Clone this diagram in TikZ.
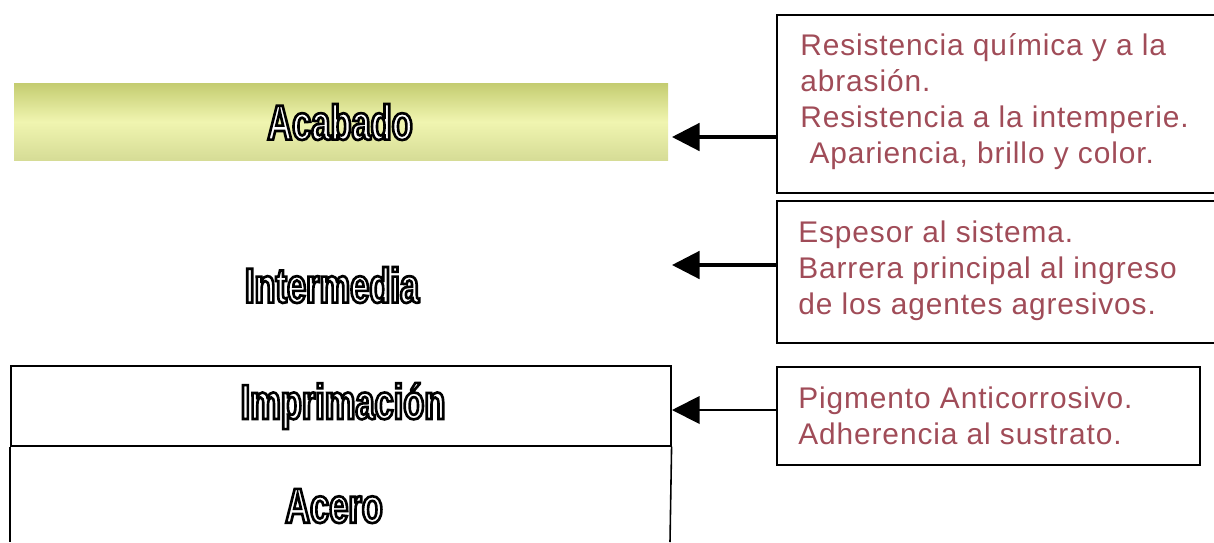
\documentclass[tikz,border=0pt]{standalone}
\usepackage{fontspec}
\setmainfont{Liberation Sans}
\usetikzlibrary{arrows.meta,positioning}

% fonts: condensed outlined layer names, spaced body text
\newfontfamily\layerfont[FakeStretch=0.7]{Liberation Sans}
\newfontfamily\notefont[LetterSpace=3]{Liberation Sans}

\definecolor{noteRed}{RGB}{160,76,88}
\definecolor{acabTop}{RGB}{196,204,112}
\definecolor{acabMid}{RGB}{240,245,176}
\definecolor{acabBot}{RGB}{214,220,150}

% hollow letters: white fill, black stroke
\newcommand{\hollow}[1]{\textcolor{white}{\special{pdf:code 0 G 2 Tr 1.5 w}#1\special{pdf:code 0 Tr}}}

\tikzset{
    layername/.style={font=\layerfont\bfseries\fontsize{28}{30}\selectfont, inner sep=0pt},
    notebox/.style={draw, line width=0.9pt, anchor=north west, inner sep=0pt},
    notetext/.style={anchor=west, align=left, text=noteRed, inner sep=0pt,
                     font=\notefont\fontsize{17}{20.5}\selectfont},
    pointer/.style={-{Triangle[length=0.55cm,width=0.55cm]}, line width=1.8pt},
}

\begin{document}
\begin{tikzpicture}[x=0.02cm, y=-0.02cm]

    \useasboundingbox (0,0) rectangle (1214,542);

    % --- Layer stack (left) ---
    \shade[top color=acabTop, bottom color=acabBot, middle color=acabMid]
        (14,83) rectangle (668,160);
    \node[layername] (acabado) at (340,122) {\hollow{Acabado}};

    \node[layername] (intermedia) at (332,285) {\hollow{Intermedia}};

    \node[draw, line width=0.9pt, anchor=north west, minimum width=660*0.02cm,
          minimum height=80*0.02cm, inner sep=0pt] (imprBox) at (10,365) {};
    \node[layername] (imprimacion) at (343,406) {\hollow{Imprimación}};

    % substrate: open at the bottom
    \draw[line width=0.9pt] (imprBox.south west) -- (10,542);
    \draw[line width=0.9pt] (imprBox.south east) -- (670,542);
    \node[layername] (acero) at (334,506) {\hollow{Acero}};

    % --- Property boxes (right) ---
    \node[notebox, minimum width=440*0.02cm, minimum height=178*0.02cm] (boxAcab) at (776,14) {};
    \node[notetext] (txtAcab) at ([xshift=24*0.02cm, yshift=2*0.02cm]boxAcab.west)
        {Resistencia química y a la\\ abrasión.\\ Resistencia a la intemperie.\\ \ Apariencia, brillo y color.};

    \node[notebox, minimum width=440*0.02cm, minimum height=142*0.02cm] (boxInter) at (776,200) {};
    \node[notetext] (txtInter) at ([xshift=22*0.02cm, yshift=1*0.02cm]boxInter.west)
        {Espesor al sistema.\\ Barrera principal al ingreso\\ de los agentes agresivos.};

    \node[notebox, minimum width=423*0.02cm, minimum height=98*0.02cm] (boxImpr) at (776,366) {};
    \node[notetext] (txtImpr) at ([xshift=22*0.02cm, yshift=0]boxImpr.west)
        {Pigmento Anticorrosivo.\\ Adherencia al sustrato.};

    % --- Pointers ---
    \coordinate (tipAcab) at (672,137);
    \coordinate (tipInter) at (672,265);
    \coordinate (tipImpr) at (672,410);

    \draw[pointer] (boxAcab.west |- tipAcab) -- (tipAcab);
    \draw[pointer] (boxInter.west |- tipInter) -- (tipInter);
    \draw[pointer, line width=1.1pt] (boxImpr.west |- tipImpr) -- (tipImpr);

\end{tikzpicture}
\end{document}
